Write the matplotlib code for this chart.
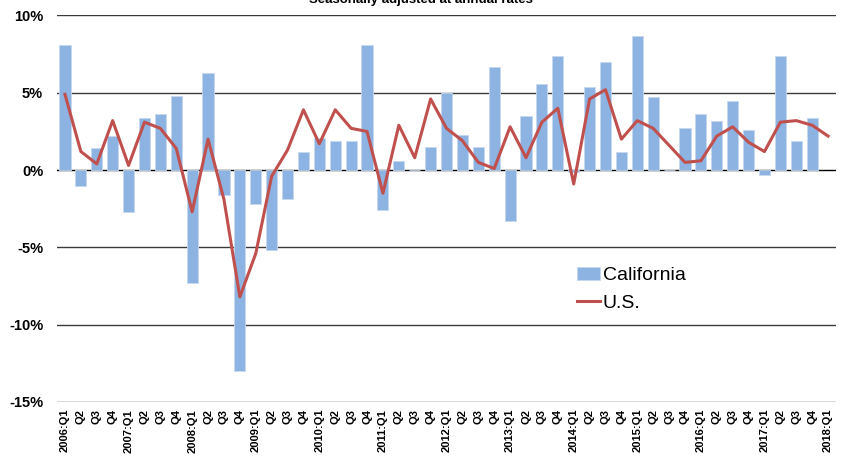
import matplotlib
matplotlib.use("Agg")
import matplotlib.pyplot as plt
import numpy as np

plt.rcParams['font.family'] = ['Liberation Sans', 'DejaVu Sans']

years = list(range(2006, 2019))
quarters = []
for yr in years:
    for q in range(1, 5):
        if yr == 2018 and q > 1:
            break
        quarters.append(f"{yr}:Q{q}" if q == 1 else f"Q{q}")

# California and U.S. growth, % (seasonally adjusted at annual rates)
california = [8.1, -1.0, 1.4, 2.2,
              -2.7, 3.4, 3.6, 4.8,
              -7.3, 6.3, -1.6, -13.0,
              -2.2, -5.2, -1.9, 1.2,
              2.1, 1.9, 1.9, 8.1,
              -2.6, 0.6, 0.0, 1.5,
              5.0, 2.3, 1.5, 6.7,
              -3.3, 3.5, 5.6, 7.4,
              -0.15, 5.4, 7.0, 1.2,
              8.7, 4.7, 0.0, 2.7,
              3.6, 3.2, 4.5, 2.6,
              -0.3, 7.4, 1.9, 3.4,
              np.nan]
us = [4.9, 1.2, 0.4, 3.2,
      0.3, 3.1, 2.7, 1.4,
      -2.7, 2.0, -1.9, -8.2,
      -5.4, -0.4, 1.3, 3.9,
      1.7, 3.9, 2.7, 2.5,
      -1.5, 2.9, 0.8, 4.6,
      2.7, 1.9, 0.5, 0.1,
      2.8, 0.8, 3.1, 4.0,
      -0.9, 4.6, 5.2, 2.0,
      3.2, 2.7, 1.6, 0.5,
      0.6, 2.2, 2.8, 1.8,
      1.2, 3.1, 3.2, 2.9,
      2.2]

yticks = [10, 5, 0, -5, -10, -15]

fig = plt.figure(figsize=(8.46, 4.61), dpi=100)
ax = fig.add_axes([0.0674, 0.128, 0.9208, 0.8384])

x = np.arange(len(quarters))
bars = ax.bar(x, california, width=0.7, color='#8DB3E2', edgecolor='#C6D9F1',
              linewidth=0.6, label='California', zorder=2)
line, = ax.plot(x, us, color='#C0504D', linewidth=2.2, label='U.S.', zorder=3)

for t in yticks:
    ax.axhline(t, color='black' if t == 0 else '#3a3a3a',
               linewidth=1.0, zorder=1)

ax.set_xlim(-0.5, len(quarters) - 0.5)
ax.set_ylim(-15, 10)
ax.set_yticks(yticks)
ax.set_yticklabels([f"{t}%" for t in yticks], fontsize=10.5, fontweight='bold')
ax.set_xticks(x)
ax.set_xticklabels(quarters, rotation=90, fontsize=8, fontweight='bold')
ax.tick_params(length=0, pad=5)
ax.tick_params(axis='y', pad=10)
for s in ax.spines.values():
    s.set_visible(False)

ax.legend([bars, line], ['California', 'U.S.'], loc='upper left',
          bbox_to_anchor=(0.667, 0.35), frameon=False, fontsize=14,
          handlelength=1.2, handletextpad=0.15, labelspacing=0.5,
          borderpad=0, borderaxespad=0)

# title is partly cut off at the top edge, as in the original
fig.text(0.497, 1.0, "Seasonally adjusted at annual rates", ha='center',
         va='center', fontsize=9.5, fontweight='bold')

fig.savefig("out.png", dpi=100)
